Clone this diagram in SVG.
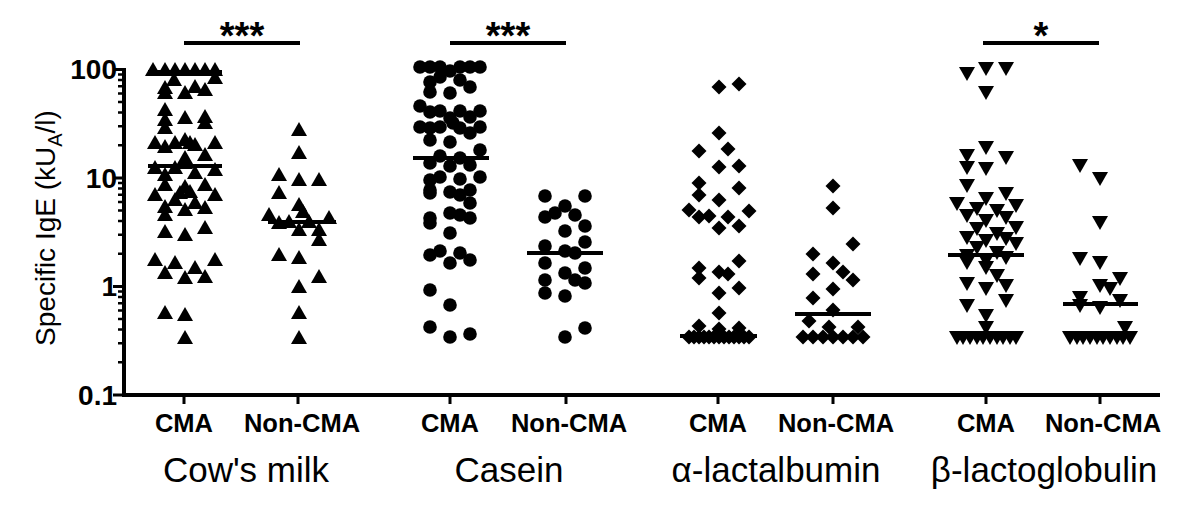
<svg xmlns="http://www.w3.org/2000/svg" xmlns:xlink="http://www.w3.org/1999/xlink" width="1200" height="512" viewBox="0 0 1200 512">
<style>
.ax{stroke:#000;stroke-width:4;fill:none}
.tk{stroke:#000;stroke-width:3}
.mt{stroke:#000;stroke-width:2.5}
.med{stroke:#000;stroke-width:4}
.sig{stroke:#000;stroke-width:4}
.yl{font-family:"Liberation Sans",Arial,sans-serif;font-weight:bold;font-size:28px;text-anchor:end}
.xl{font-family:"Liberation Sans",Arial,sans-serif;font-weight:bold;font-size:25.5px;text-anchor:middle}
.gl{font-family:"Liberation Sans",Arial,sans-serif;font-size:35px;text-anchor:middle}
.st{font-family:"Liberation Sans",Arial,sans-serif;font-weight:bold;font-size:38px;text-anchor:middle}
.tt{font-family:"Liberation Sans",Arial,sans-serif;font-size:28px;text-anchor:middle}
</style>
<defs>
<path id="tu" d="M0,-8 L8,6 L-8,6Z"/>
<path id="td" d="M0,8 L8,-6 L-8,-6Z"/>
<circle id="ci" r="6.8"/>
<path id="di" d="M0,-7.5 L7.5,0 L0,7.5 L-7.5,0Z"/>
</defs>
<rect width="1200" height="512" fill="#fff"/>
<g id="axes">
<path class="ax" d="M124,68 V395 H1160"/>
<g class="tk"><path d="M113,69.5H124M113,178H124M113,286.5H124M113,395H124"/>
<path d="M184,395V404M298,395V404M450,395V404M566,395V404M718,395V404M833,395V404M986,395V404M1100,395V404"/></g>
<g class="mt"><path d="M118,362.3H124M118,343.2H124M118,329.6H124M118,319.1H124M118,310.5H124M118,303.2H124M118,296.9H124M118,291.4H124
M118,253.8H124M118,234.7H124M118,221.1H124M118,210.6H124M118,202H124M118,194.7H124M118,188.4H124M118,182.9H124
M118,145.3H124M118,126.2H124M118,112.6H124M118,102.1H124M118,93.5H124M118,86.2H124M118,79.9H124M118,74.4H124"/></g>
<text class="yl" x="117" y="79">100</text>
<text class="yl" x="117" y="188">10</text>
<text class="yl" x="117" y="296">1</text>
<text class="yl" x="117" y="405">0.1</text>
<text class="tt" transform="translate(55,228) rotate(-90)">Specific IgE (kU<tspan font-size="20" dy="7">A</tspan><tspan dy="-7">/l)</tspan></text>
</g>
<g id="xlabels">
<text class="xl" x="184" y="432">CMA</text><text class="xl" x="302" y="432">Non-CMA</text>
<text class="xl" x="450" y="432">CMA</text><text class="xl" x="569" y="432">Non-CMA</text>
<text class="xl" x="718" y="432">CMA</text><text class="xl" x="836" y="432">Non-CMA</text>
<text class="xl" x="986" y="432">CMA</text><text class="xl" x="1103" y="432">Non-CMA</text>
<text class="gl" x="246" y="482">Cow's milk</text>
<text class="gl" x="509" y="482">Casein</text>
<text class="gl" x="776" y="482">α-lactalbumin</text>
<text class="gl" x="1044" y="482">β-lactoglobulin</text>
</g>
<g id="connectors">
<path class="sig" d="M184,43H300M450,43H566M983,43H1099"/>
<text class="st" x="242" y="49">***</text>
<text class="st" x="508" y="49">***</text>
<text class="st" x="1041" y="49">*</text>
</g>
<g id="cowsmilk-cma">
<use href="#tu" x="153" y="70"/><use href="#tu" x="165" y="70"/><use href="#tu" x="175" y="70"/><use href="#tu" x="185" y="70"/><use href="#tu" x="195" y="70"/><use href="#tu" x="205" y="70"/><use href="#tu" x="215" y="70"/>
<use href="#tu" x="174" y="80"/><use href="#tu" x="165" y="88"/><use href="#tu" x="195" y="87"/><use href="#tu" x="205" y="90"/><use href="#tu" x="215" y="78"/><use href="#tu" x="185" y="93"/><use href="#tu" x="165" y="93"/>
<use href="#tu" x="165" y="110"/><use href="#tu" x="165" y="120"/><use href="#tu" x="165" y="128"/><use href="#tu" x="185" y="118"/><use href="#tu" x="205" y="117"/><use href="#tu" x="205" y="123"/>
<use href="#tu" x="155" y="143"/><use href="#tu" x="165" y="147"/><use href="#tu" x="175" y="143"/><use href="#tu" x="185" y="140"/><use href="#tu" x="190" y="143"/><use href="#tu" x="195" y="145"/><use href="#tu" x="215" y="143"/><use href="#tu" x="205" y="155"/><use href="#tu" x="185" y="158"/>
<use href="#tu" x="155" y="168"/><use href="#tu" x="165" y="175"/><use href="#tu" x="175" y="168"/><use href="#tu" x="185" y="163"/><use href="#tu" x="195" y="173"/><use href="#tu" x="215" y="170"/>
<use href="#tu" x="165" y="185"/><use href="#tu" x="185" y="187"/><use href="#tu" x="190" y="192"/><use href="#tu" x="180" y="193"/><use href="#tu" x="205" y="185"/><use href="#tu" x="155" y="195"/><use href="#tu" x="215" y="195"/><use href="#tu" x="175" y="200"/><use href="#tu" x="195" y="203"/><use href="#tu" x="165" y="207"/><use href="#tu" x="185" y="210"/><use href="#tu" x="205" y="208"/><use href="#tu" x="165" y="215"/>
<use href="#tu" x="165" y="232"/><use href="#tu" x="185" y="235"/><use href="#tu" x="205" y="228"/>
<use href="#tu" x="155" y="260"/><use href="#tu" x="175" y="263"/><use href="#tu" x="215" y="260"/><use href="#tu" x="165" y="273"/><use href="#tu" x="195" y="268"/><use href="#tu" x="185" y="278"/><use href="#tu" x="205" y="277"/>
<use href="#tu" x="165" y="313"/><use href="#tu" x="185" y="315"/><use href="#tu" x="185" y="338"/>
<path class="med" d="M148,72H222M148,166H222"/>
</g>
<g id="cowsmilk-noncma">
<use href="#tu" x="299" y="130"/><use href="#tu" x="299" y="153"/><use href="#tu" x="279" y="175"/><use href="#tu" x="299" y="180"/><use href="#tu" x="319" y="180"/><use href="#tu" x="279" y="193"/><use href="#tu" x="299" y="205"/><use href="#tu" x="303" y="212"/><use href="#tu" x="269" y="215"/><use href="#tu" x="279" y="223"/><use href="#tu" x="289" y="222"/><use href="#tu" x="299" y="230"/><use href="#tu" x="309" y="222"/><use href="#tu" x="319" y="230"/><use href="#tu" x="329" y="218"/><use href="#tu" x="319" y="240"/><use href="#tu" x="279" y="255"/><use href="#tu" x="299" y="258"/><use href="#tu" x="319" y="277"/><use href="#tu" x="299" y="287"/><use href="#tu" x="299" y="313"/><use href="#tu" x="299" y="338"/>
<path class="med" d="M268,222H336"/>
</g>
<g id="casein-cma">
<use href="#ci" x="420" y="67"/><use href="#ci" x="430" y="67"/><use href="#ci" x="440" y="67"/><use href="#ci" x="450" y="71"/><use href="#ci" x="460" y="67"/><use href="#ci" x="470" y="67"/><use href="#ci" x="480" y="67"/>
<use href="#ci" x="430" y="82"/><use href="#ci" x="440" y="77"/><use href="#ci" x="460" y="80"/><use href="#ci" x="470" y="87"/><use href="#ci" x="430" y="92"/><use href="#ci" x="450" y="93"/>
<use href="#ci" x="420" y="106"/><use href="#ci" x="430" y="112"/><use href="#ci" x="440" y="111"/><use href="#ci" x="460" y="111"/><use href="#ci" x="470" y="117"/><use href="#ci" x="480" y="111"/><use href="#ci" x="450" y="118"/>
<use href="#ci" x="420" y="127"/><use href="#ci" x="430" y="128"/><use href="#ci" x="440" y="127"/><use href="#ci" x="453" y="123"/><use href="#ci" x="460" y="128"/><use href="#ci" x="470" y="133"/><use href="#ci" x="480" y="127"/>
<use href="#ci" x="430" y="140"/><use href="#ci" x="450" y="142"/><use href="#ci" x="480" y="150"/><use href="#ci" x="440" y="156"/><use href="#ci" x="460" y="158"/><use href="#ci" x="430" y="163"/><use href="#ci" x="450" y="166"/><use href="#ci" x="470" y="165"/>
<use href="#ci" x="430" y="180"/><use href="#ci" x="440" y="177"/><use href="#ci" x="460" y="179"/><use href="#ci" x="480" y="177"/><use href="#ci" x="430" y="190"/><use href="#ci" x="430" y="193"/><use href="#ci" x="450" y="192"/><use href="#ci" x="460" y="195"/><use href="#ci" x="470" y="190"/><use href="#ci" x="470" y="203"/>
<use href="#ci" x="450" y="213"/><use href="#ci" x="460" y="215"/><use href="#ci" x="470" y="218"/><use href="#ci" x="430" y="218"/><use href="#ci" x="430" y="223"/><use href="#ci" x="450" y="233"/>
<use href="#ci" x="430" y="255"/><use href="#ci" x="440" y="251"/><use href="#ci" x="460" y="253"/><use href="#ci" x="450" y="263"/><use href="#ci" x="470" y="260"/>
<use href="#ci" x="430" y="290"/><use href="#ci" x="450" y="305"/><use href="#ci" x="430" y="327"/><use href="#ci" x="450" y="337"/><use href="#ci" x="470" y="334"/>
<path class="med" d="M413,158H489"/>
</g>
<g id="casein-noncma">
<use href="#ci" x="545" y="196"/><use href="#ci" x="585" y="196"/><use href="#ci" x="565" y="206"/><use href="#ci" x="555" y="213"/><use href="#ci" x="545" y="217"/><use href="#ci" x="575" y="215"/><use href="#ci" x="585" y="226"/><use href="#ci" x="565" y="231"/><use href="#ci" x="585" y="242"/><use href="#ci" x="545" y="246"/><use href="#ci" x="565" y="251"/><use href="#ci" x="575" y="253"/><use href="#ci" x="545" y="263"/><use href="#ci" x="565" y="273"/><use href="#ci" x="585" y="268"/><use href="#ci" x="575" y="280"/><use href="#ci" x="585" y="283"/><use href="#ci" x="545" y="280"/><use href="#ci" x="545" y="293"/><use href="#ci" x="565" y="296"/><use href="#ci" x="585" y="328"/><use href="#ci" x="565" y="337"/>
<path class="med" d="M527,253H603"/>
</g>
<g id="alactalbumin-cma">
<use href="#di" x="719" y="87"/><use href="#di" x="739" y="84"/><use href="#di" x="719" y="133"/><use href="#di" x="699" y="151"/><use href="#di" x="728" y="149"/><use href="#di" x="719" y="167"/><use href="#di" x="739" y="166"/><use href="#di" x="699" y="183"/><use href="#di" x="739" y="188"/><use href="#di" x="699" y="195"/><use href="#di" x="719" y="200"/><use href="#di" x="689" y="210"/><use href="#di" x="699" y="217"/><use href="#di" x="709" y="216"/><use href="#di" x="728" y="217"/><use href="#di" x="749" y="211"/><use href="#di" x="719" y="228"/><use href="#di" x="739" y="226"/>
<use href="#di" x="699" y="268"/><use href="#di" x="699" y="278"/><use href="#di" x="719" y="272"/><use href="#di" x="728" y="274"/><use href="#di" x="739" y="261"/><use href="#di" x="719" y="293"/><use href="#di" x="739" y="288"/><use href="#di" x="719" y="313"/><use href="#di" x="699" y="326"/><use href="#di" x="719" y="329"/><use href="#di" x="739" y="328"/>
<use href="#di" x="689" y="337"/><use href="#di" x="694" y="337"/><use href="#di" x="699" y="337"/><use href="#di" x="704" y="337"/><use href="#di" x="709" y="337"/><use href="#di" x="714" y="337"/><use href="#di" x="719" y="337"/><use href="#di" x="724" y="337"/><use href="#di" x="729" y="337"/><use href="#di" x="734" y="337"/><use href="#di" x="739" y="337"/><use href="#di" x="744" y="337"/><use href="#di" x="749" y="337"/>
<path class="med" d="M680,336H757"/>
</g>
<g id="alactalbumin-noncma">
<use href="#di" x="833" y="186"/><use href="#di" x="833" y="208"/><use href="#di" x="853" y="244"/><use href="#di" x="813" y="254"/><use href="#di" x="833" y="263"/><use href="#di" x="843" y="272"/><use href="#di" x="813" y="274"/><use href="#di" x="853" y="280"/><use href="#di" x="833" y="289"/><use href="#di" x="813" y="298"/><use href="#di" x="833" y="310"/><use href="#di" x="809" y="321"/><use href="#di" x="829" y="327"/><use href="#di" x="858" y="327"/>
<use href="#di" x="803" y="337"/><use href="#di" x="813" y="337"/><use href="#di" x="823" y="337"/><use href="#di" x="833" y="337"/><use href="#di" x="843" y="337"/><use href="#di" x="853" y="337"/><use href="#di" x="863" y="337"/>
<path class="med" d="M795,314H871"/>
</g>
<g id="blactoglobulin-cma">
<use href="#td" x="967" y="73"/><use href="#td" x="986" y="68"/><use href="#td" x="1006" y="68"/><use href="#td" x="986" y="92"/>
<use href="#td" x="986" y="147"/><use href="#td" x="967" y="155"/><use href="#td" x="1006" y="157"/><use href="#td" x="967" y="167"/><use href="#td" x="986" y="168"/><use href="#td" x="967" y="185"/>
<use href="#td" x="957" y="203"/><use href="#td" x="986" y="198"/><use href="#td" x="1006" y="193"/><use href="#td" x="1016" y="205"/><use href="#td" x="977" y="208"/><use href="#td" x="967" y="215"/><use href="#td" x="997" y="210"/><use href="#td" x="986" y="220"/><use href="#td" x="1006" y="217"/><use href="#td" x="1016" y="227"/><use href="#td" x="977" y="228"/><use href="#td" x="967" y="237"/><use href="#td" x="997" y="233"/><use href="#td" x="1006" y="238"/><use href="#td" x="986" y="240"/><use href="#td" x="1016" y="243"/><use href="#td" x="977" y="247"/><use href="#td" x="967" y="255"/><use href="#td" x="997" y="252"/><use href="#td" x="1006" y="257"/><use href="#td" x="967" y="262"/><use href="#td" x="986" y="260"/><use href="#td" x="986" y="267"/><use href="#td" x="997" y="275"/><use href="#td" x="967" y="283"/><use href="#td" x="986" y="288"/><use href="#td" x="1006" y="285"/><use href="#td" x="967" y="305"/><use href="#td" x="1006" y="300"/><use href="#td" x="986" y="315"/><use href="#td" x="986" y="327"/>
<use href="#td" x="957" y="337"/><use href="#td" x="963" y="337"/><use href="#td" x="970" y="337"/><use href="#td" x="977" y="337"/><use href="#td" x="983" y="337"/><use href="#td" x="990" y="337"/><use href="#td" x="997" y="337"/><use href="#td" x="1003" y="337"/><use href="#td" x="1010" y="337"/><use href="#td" x="1016" y="337"/>
<path class="med" d="M948,255H1024"/>
</g>
<g id="blactoglobulin-noncma">
<use href="#td" x="1080" y="165"/><use href="#td" x="1100" y="178"/><use href="#td" x="1100" y="222"/><use href="#td" x="1080" y="258"/><use href="#td" x="1100" y="262"/><use href="#td" x="1100" y="285"/><use href="#td" x="1120" y="278"/><use href="#td" x="1110" y="288"/><use href="#td" x="1080" y="297"/><use href="#td" x="1100" y="307"/><use href="#td" x="1120" y="300"/><use href="#td" x="1080" y="305"/><use href="#td" x="1125" y="327"/>
<use href="#td" x="1070" y="337"/><use href="#td" x="1077" y="337"/><use href="#td" x="1083" y="337"/><use href="#td" x="1090" y="337"/><use href="#td" x="1097" y="337"/><use href="#td" x="1103" y="337"/><use href="#td" x="1110" y="337"/><use href="#td" x="1117" y="337"/><use href="#td" x="1123" y="337"/><use href="#td" x="1130" y="337"/>
<path class="med" d="M1063,304H1138"/>
</g>
</svg>
